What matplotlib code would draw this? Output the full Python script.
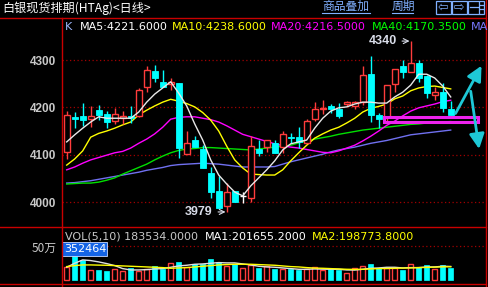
import matplotlib
matplotlib.use('Agg')
import matplotlib.pyplot as plt
from matplotlib.patches import Rectangle
from matplotlib.lines import Line2D

# ---------------- data ----------------
opens = [4105, 4180, 4182, 4176, 4194, 4186, 4172, 4177, 4182, 4182,
         4242, 4277, 4253, 4250, 4251, 4101, 4130, 4111, 4061, 4023,
         3992, 4023, 4013, 4008, 4113, 4117, 4124, 4117, 4137, 4137,
         4124, 4175, 4197, 4203, 4196, 4207, 4203, 4212, 4270, 4184,
         4180, 4249, 4287, 4275, 4293, 4266, 4226, 4233, 4196]
highs = [4192, 4191, 4210, 4203, 4205, 4193, 4199, 4192, 4203, 4240,
         4288, 4289, 4279, 4261, 4251, 4150, 4139, 4120, 4075, 4055,
         4041, 4023, 4022, 4139, 4131, 4131, 4131, 4151, 4145, 4159,
         4175, 4212, 4216, 4207, 4209, 4213, 4213, 4287, 4309, 4189,
         4247, 4282, 4300, 4340, 4300, 4268, 4244, 4251, 4214]
lows = [4090, 4157, 4160, 4158, 4173, 4157, 4165, 4165, 4166, 4180,
        4233, 4254, 4242, 4237, 4094, 4101, 4116, 4071, 4009, 3987,
        3979, 4001, 3997, 3999, 4097, 4106, 4103, 4103, 4124, 4115,
        4124, 4172, 4186, 4189, 4177, 4203, 4196, 4205, 4168, 4156,
        4170, 4233, 4261, 4275, 4254, 4219, 4216, 4191, 4184]
closes = [4184, 4175, 4173, 4181, 4184, 4168, 4185, 4182, 4177, 4237,
          4279, 4263, 4242, 4253, 4115, 4124, 4116, 4071, 4022, 3987,
          4022, 4001, 4013, 4119, 4103, 4131, 4104, 4143, 4136, 4127,
          4171, 4196, 4199, 4196, 4182, 4212, 4211, 4268, 4183, 4175,
          4247, 4282, 4275, 4294, 4261, 4230, 4233, 4198, 4184]

ma5 = [4127, 4142, 4156, 4169, 4180, 4177, 4177, 4177, 4177, 4190,
       4211, 4228, 4241, 4254, 4230, 4203, 4165, 4131, 4089, 4057,
       4038, 4021, 4013, 4034, 4051, 4068, 4087, 4110, 4123, 4127,
       4131, 4156, 4177, 4192, 4199, 4201, 4207, 4211, 4211, 4209,
       4209, 4222, 4232, 4247, 4270, 4270, 4262, 4245, 4222]
ma10 = [4078, 4091, 4108, 4137, 4145, 4150, 4156, 4163, 4169, 4184,
        4194, 4203, 4211, 4217, 4213, 4208, 4201, 4189, 4173, 4150,
        4118, 4089, 4072, 4059, 4058, 4057, 4057, 4068, 4087, 4104,
        4120, 4135, 4144, 4152, 4158, 4167, 4177, 4190, 4198, 4202,
        4207, 4218, 4224, 4235, 4241, 4244, 4245, 4242, 4239]
ma20 = [4068, 4074, 4082, 4089, 4094, 4099, 4104, 4107, 4114, 4124,
        4133, 4144, 4158, 4175, 4179, 4180, 4180, 4177, 4174, 4169,
        4161, 4152, 4143, 4138, 4133, 4128, 4123, 4119, 4116, 4114,
        4111, 4108, 4105, 4104, 4108, 4114, 4120, 4129, 4139, 4150,
        4162, 4171, 4182, 4192, 4199, 4203, 4207, 4212, 4215]
ma40 = [4038, 4039, 4040, 4040, 4042, 4046, 4051, 4059, 4066, 4073,
        4080, 4089, 4097, 4104, 4109, 4112, 4113, 4115, 4115, 4114,
        4113, 4112, 4111, 4110, 4112, 4114, 4116, 4118, 4120, 4125,
        4129, 4133, 4136, 4139, 4143, 4146, 4149, 4152, 4154, 4156,
        4158, 4160, 4162, 4164, 4165, 4167, 4168, 4169, 4170]
ma60 = [4040, 4041, 4043, 4045, 4048, 4051, 4054, 4057, 4060, 4063,
        4067, 4070, 4073, 4077, 4079, 4080, 4081, 4082, 4081, 4080,
        4078, 4076, 4074, 4074, 4074, 4074, 4075, 4080, 4085, 4089,
        4093, 4097, 4101, 4106, 4110, 4113, 4116, 4120, 4124, 4127,
        4130, 4134, 4138, 4142, 4144, 4146, 4148, 4150, 4152]

volumes = [189500, 352464, 298500, 149000, 149000, 134000, 160000, 134000, 175000, 134000,
           160000, 209000, 160000, 258000, 273000, 190000, 239000, 239000, 313000, 273000,
           209000, 239000, 175000, 224000, 172000, 209000, 160000, 160000, 160000, 149000,
           160000, 190000, 149000, 160000, 149000, 100000, 175000, 209000, 239000, 175000,
           175000, 175000, 149000, 239000, 190000, 224000, 160000, 224000, 183534]
vol_ma1 = [190, 250, 300, 290, 270, 245, 215, 170, 150, 150,
           155, 165, 170, 190, 210, 220, 235, 240, 250, 260,
           255, 255, 240, 225, 205, 195, 190, 180, 170, 160,
           160, 165, 162, 160, 160, 150, 148, 160, 175, 180,
           190, 190, 180, 185, 185, 195, 195, 205, 201.655]
vol_ma2 = [200, 215, 225, 225, 222, 220, 215, 210, 205, 200,
           195, 190, 185, 175, 180, 185, 195, 205, 215, 225,
           230, 235, 235, 235, 230, 225, 220, 210, 200, 195,
           185, 178, 175, 170, 165, 160, 158, 160, 165, 170,
           172, 175, 178, 180, 185, 188, 192, 196, 198.774]

price_ticks = [4000, 4100, 4200, 4300]
title = '白银现货排期(HTAg)<日线>'
legend_items = [('K', '#9fb8ff'), ('MA5:4221.6000', '#ffffff'), ('MA10:4238.6000', '#ffff00'),
                ('MA20:4216.5000', '#ff00ff'), ('MA40:4170.3500', '#00ff00'), ('MA', '#7878ff')]
vol_legend = [('VOL(5,10) 183534.0000', '#c8c8c8'), ('MA1:201655.2000', '#ffffff'),
              ('MA2:198773.8000', '#ffff00')]

# ---------------- layout ----------------
W, H = 488, 287
fig = plt.figure(figsize=(W / 100, H / 100), dpi=100, facecolor='black')


def box(x0, y0, x1, y1):
    return [x0 / W, 1 - y1 / H, (x1 - x0) / W, (y1 - y0) / H]


def fx(x):
    return x / W


def fy(y):
    return 1 - y / H


RED = '#ff3c3c'
CYAN = '#00ffff'
FRAME = '#c80000'
GRID = '#a00000'
CJK = ['Noto Sans CJK SC', 'DejaVu Sans']

ax = fig.add_axes(box(62, 17, 486, 227))
axv = fig.add_axes(box(62, 227, 486, 284))
for a in (ax, axv):
    a.set_facecolor('black')
    for s in a.spines.values():
        s.set_visible(False)
    a.set_xlim(-0.5875, 52.41)
    a.set_xticks([])
ax.set_ylim(3947.2, 4390.9)
axv.set_ylim(-59700, 791000)

ax.set_yticks(price_ticks)
ax.set_yticklabels([str(t) for t in price_ticks])
ax.tick_params(axis='y', length=0, pad=4, colors='#c8c8c8', labelsize=8.5)
for lab in ax.get_yticklabels():
    lab.set_fontfamily('Liberation Sans')
    lab.set_fontweight('bold')
for t in price_ticks:
    ax.axhline(t, color=GRID, lw=0.9, ls=(0, (1, 2)), zorder=1)

axv.set_yticks([500000])
axv.set_yticklabels(['50万'])
axv.tick_params(axis='y', length=0, pad=4, colors='#c8c8c8', labelsize=8.5)
for lab in axv.get_yticklabels():
    lab.set_fontfamily(CJK)
axv.axhline(500000, color=GRID, lw=0.9, ls=(0, (1, 2)), zorder=1)

# ---------------- candles ----------------
bw = 0.7
for i, (o, h, l, c) in enumerate(zip(opens, highs, lows, closes)):
    if c == o:
        ax.vlines(i, l, h, color='white', lw=1, zorder=4)
        ax.hlines(o, i - bw / 2, i + bw / 2, color='white', lw=1, zorder=4)
    elif c > o:
        ax.vlines(i, c, h, color=RED, lw=1, zorder=4)
        ax.vlines(i, l, o, color=RED, lw=1, zorder=4)
        ax.add_patch(Rectangle((i - bw / 2, o), bw, c - o, facecolor='black',
                               edgecolor=RED, lw=1, zorder=4))
    else:
        ax.vlines(i, l, h, color=CYAN, lw=1, zorder=4)
        ax.add_patch(Rectangle((i - bw / 2, c), bw, max(o - c, 1.5), facecolor=CYAN,
                               edgecolor=CYAN, lw=0.6, zorder=4))

xs = list(range(len(closes)))
ax.plot(xs, ma60, color='#7070f0', lw=1, zorder=3)
ax.plot(xs, ma40, color='#00e000', lw=1, zorder=3)
ax.plot(xs, ma20, color='#ff00ff', lw=1, zorder=3)
ax.plot(xs, ma10, color='#ffff00', lw=1, zorder=3)
ax.plot(xs, ma5, color='#e8e8e8', lw=1, zorder=5)

# extreme labels
ax.annotate('4340', xy=(42.85, 4340), xytext=(-13, 0), textcoords='offset pixels',
            ha='right', va='center', color='#d8dce8', fontsize=9, fontweight='bold',
            family='Liberation Sans',
            arrowprops=dict(arrowstyle='->', color='#d8dce8', lw=0.8, shrinkA=2, shrinkB=0))
ax.annotate('3979', xy=(19.85, 3979), xytext=(-13, 0), textcoords='offset pixels',
            ha='right', va='center', color='#d8dce8', fontsize=9, fontweight='bold',
            family='Liberation Sans',
            arrowprops=dict(arrowstyle='->', color='#d8dce8', lw=0.8, shrinkA=2, shrinkB=0))

# hand-drawn marks
ax.add_patch(Rectangle((39.6, 4169), 11.86, 10, facecolor='none', edgecolor='#ee22ee',
                       lw=2.2, zorder=6))
ax.annotate('', xy=(51.85, 4288), xytext=(48.6, 4187),
            arrowprops=dict(arrowstyle='-|>,head_length=0.9,head_width=0.45',
                            color='#1ec8d6', lw=2.0, mutation_scale=10, shrinkA=0, shrinkB=0),
            zorder=7, annotation_clip=False)
ax.annotate('', xy=(51.55, 4112), xytext=(50.5, 4234),
            arrowprops=dict(arrowstyle='-|>,head_length=0.9,head_width=0.45',
                            color='#1ec8d6', lw=2.0, mutation_scale=10, shrinkA=0, shrinkB=0),
            zorder=7, annotation_clip=False)

# ---------------- volume ----------------
vw = 0.66
for i, v in enumerate(volumes):
    if closes[i] >= opens[i]:
        axv.add_patch(Rectangle((i - vw / 2, 0), vw, v, facecolor='black',
                                edgecolor=RED, lw=1, zorder=3))
    else:
        axv.add_patch(Rectangle((i - vw / 2, 0), vw, v, facecolor=CYAN,
                                edgecolor=CYAN, lw=0.5, zorder=3))
axv.plot(xs, [v * 1000 for v in vol_ma1], color='#e0e0e0', lw=1, zorder=4)
axv.plot(xs, [v * 1000 for v in vol_ma2], color='#ffff00', lw=1, zorder=4)

# ---------------- frame ----------------
def fline(x0, y0, x1, y1, color=FRAME, lw=1.0):
    fig.add_artist(Line2D([fx(x0), fx(x1)], [fy(y0), fy(y1)], color=color, lw=lw))


fline(0, 17.5, 486, 17.5)
fline(62, 17.5, 62, 287)
fline(485.5, 0, 485.5, 287)
fline(0, 226.5, 486, 226.5)
fline(0, 284, 486, 284)

# ---------------- texts ----------------
fig.text(fx(2), fy(8), title, color='white', fontsize=8.7, family=CJK, va='center', ha='left')
for label, x0, x1 in [('商品叠加', 322, 370), ('周期', 392, 413)]:
    fig.text(fx(x0), fy(6.5), label, color='#80b0ff', fontsize=8.5, family=CJK,
             va='center', ha='left')
    fline(x0, 13, x1, 13, color='#80b0ff', lw=0.8)
for (x0, x1), glyph in zip([(436, 450.5), (452, 466.5), (468, 484)], ['⇦', '⇨', '']):
    fig.add_artist(Rectangle((fx(x0), fy(13.5)), (x1 - x0) / W, 13 / H, facecolor='none',
                             edgecolor='#80b0ff', lw=0.9))
    if glyph:
        fig.text(fx((x0 + x1) / 2), fy(7), glyph, color='#80b0ff', fontsize=9,
                 family='DejaVu Sans', ha='center', va='center')
fline(470, 7, 478, 7, color='#80b0ff', lw=0.9)
fline(479, 2, 479, 13, color='#80b0ff', lw=0.9)
fline(480, 5, 483, 5, color='#80b0ff', lw=0.9)
fline(480, 9, 483, 9, color='#80b0ff', lw=0.9)

leg_x = [65, 80, 171.5, 271, 371.5, 470.5]
for (label, col), x0 in zip(legend_items, leg_x):
    fig.text(fx(x0), fy(27), label, color=col, fontsize=8.0, family='DejaVu Sans',
             va='center', ha='left')

vleg_x = [65, 205, 312]
for (label, col), x0 in zip(vol_legend, vleg_x):
    fig.text(fx(x0), fy(236.5), label, color=col, fontsize=8.0, family='DejaVu Sans',
             va='center', ha='left')
fig.add_artist(Rectangle((fx(62.5), fy(256)), 45 / W, 14 / H, facecolor='#1464e6',
                         edgecolor='#c8d8ff', lw=0.6))
fig.text(fx(85), fy(249), '352464', color='white', fontsize=8.0, family='DejaVu Sans',
         va='center', ha='center')

fig.savefig('out.png', dpi=100, facecolor='black')
